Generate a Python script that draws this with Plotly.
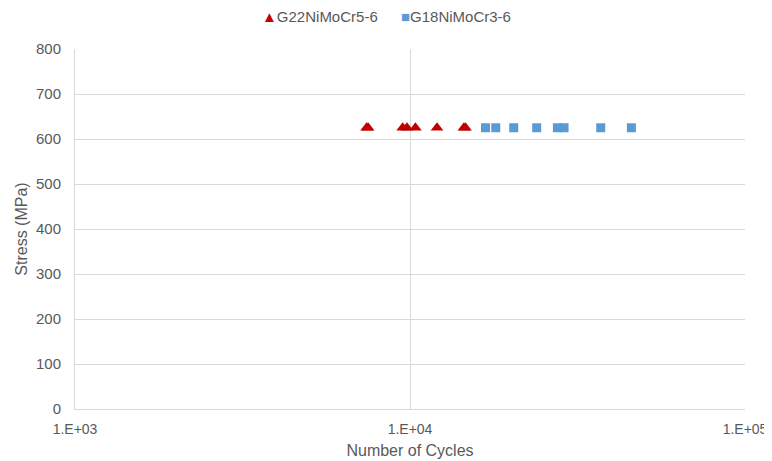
import plotly.graph_objects as go

stress_level = 625
g22_cycles = [7420, 7500, 9510, 9795, 10380, 12040, 14480, 14650]
g22_stress = [stress_level] * len(g22_cycles)
g18_cycles = [16800, 18030, 20400, 23890, 27540, 28830, 37100, 45800]
g18_stress = [stress_level] * len(g18_cycles)

series_names = ["G22NiMoCr5-6", "G18NiMoCr3-6"]
series_colors = ["#C00000", "#5B9BD5"]
legend_symbols = ["\u25B2", "\u25A0"]

x_tickvals = [1e3, 1e4, 1e5]
x_ticktext = ["1.E+03", "1.E+04", "1.E+05"]
y_tickvals = [0, 100, 200, 300, 400, 500, 600, 700, 800]

W, H = 764, 453
ML, MR, MT, MB = 67, 27, 41, 52

fig = go.Figure()
fig.add_trace(go.Scatter(
    x=g22_cycles, y=g22_stress, mode="markers", name=series_names[0],
    marker=dict(symbol="triangle-up", size=11, color=series_colors[0]),
))
fig.add_trace(go.Scatter(
    x=g18_cycles, y=g18_stress, mode="markers", name=series_names[1],
    marker=dict(symbol="square", size=9, color=series_colors[1]),
))

# legend drawn as text at the top centre (pixel positions -> paper coords)
pw, ph = W - ML - MR, H - MT - MB
for px, sym, name, col in zip([251.5, 391.0], legend_symbols, series_names, series_colors):
    fig.add_annotation(
        x=(px - ML) / pw, y=(H - 8 - MB) / ph, xref="paper", yref="paper",
        xanchor="left", yanchor="middle",
        text=f'<span style="color:{col}">{sym}</span>{name}',
        showarrow=False, font=dict(size=15, color="#595959"),
    )

grid = "#D9D9D9"
fig.update_layout(
    width=W, height=H,
    margin=dict(l=ML, r=MR, t=MT, b=MB, autoexpand=False),
    paper_bgcolor="white", plot_bgcolor="white",
    font=dict(family="Liberation Sans, Arial, sans-serif", size=15, color="#595959"),
    showlegend=False,
    xaxis=dict(
        type="log", range=[3, 5], tickvals=x_tickvals, ticktext=x_ticktext,
        showgrid=True, gridcolor=grid, gridwidth=1,
        showline=True, linecolor=grid, linewidth=1,
        zeroline=False, ticks="", ticklabelstandoff=7,
        tickfont=dict(size=14),
        title=dict(text="Number of Cycles", font=dict(size=16, color="#595959"), standoff=9),
    ),
    yaxis=dict(
        range=[0, 800], tickvals=y_tickvals,
        showgrid=True, gridcolor=grid, gridwidth=1,
        showline=True, linecolor=grid, linewidth=1,
        zeroline=False, ticks="", ticklabelstandoff=10,
        tickfont=dict(size=15),
        title=dict(text="Stress (MPa)", font=dict(size=16, color="#595959"), standoff=4),
    ),
)

fig.write_html("out.html")
